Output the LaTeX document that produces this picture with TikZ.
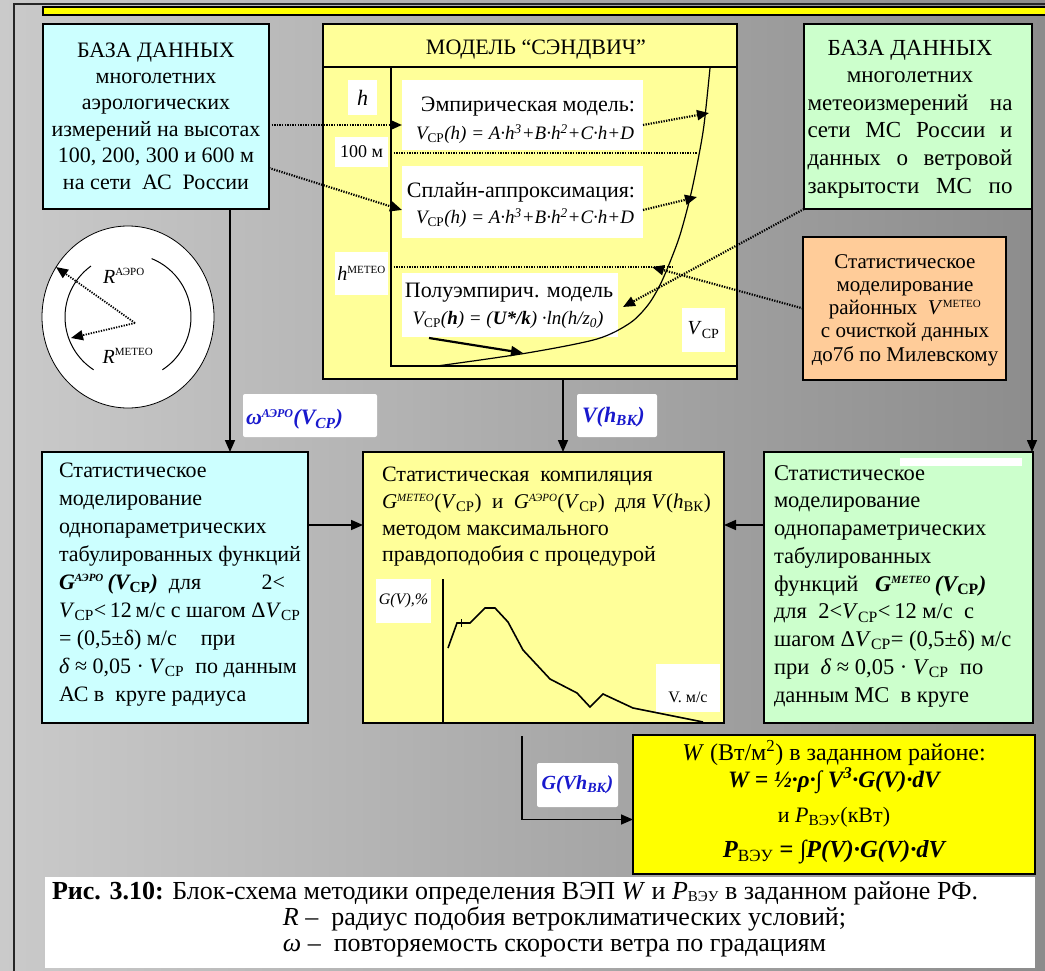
\documentclass[tikz,border=0pt]{standalone}
\usepackage{fontspec}
\setmainfont{Liberation Serif}
\usetikzlibrary{arrows.meta,calc}
\definecolor{cyanbox}{RGB}{204,255,255}
\definecolor{ylbox}{RGB}{255,255,153}
\definecolor{grbox}{RGB}{204,255,204}
\definecolor{orbox}{RGB}{255,204,153}
\definecolor{ybright}{RGB}{255,255,0}
\definecolor{lblue}{RGB}{25,25,205}
\definecolor{bgl}{RGB}{202,202,202}
\definecolor{bgr}{RGB}{140,140,140}
\newcommand{\fsz}[2]{\fontsize{#1}{#2}\selectfont}
\newcommand{\Vsr}{\textit{V}\textsubscript{\upshape СР}}
\newcommand{\smsup}[1]{\textsuperscript{\fsz{11}{12}#1}}
\begin{document}
\begin{tikzpicture}[x=1pt,y=-1pt,
  arr/.style={-{Triangle[length=12pt,width=10pt]}, line width=1.6pt},
  dots/.style={line width=2.2pt, dash pattern=on 1.3pt off 1.3pt},
  darr/.style={dots, -{Triangle[length=12pt,width=10pt]}},
  boxs/.style={draw=black, line width=1.3pt, anchor=north west, inner sep=0pt, outer sep=0pt},
  wbox/.style={fill=white, draw=none, anchor=north west, inner sep=0pt, outer sep=0pt},
  lbox/.style={wbox, rounded corners=2pt},
  txt/.style={inner sep=0pt, outer sep=0pt, font=\fsz{22}{26}},
  blue/.style={txt, text=lblue, font=\fsz{22}{24}\bfseries\itshape}
]
\useasboundingbox (0,0) rectangle (1045,971);
\fill[left color=bgl, right color=bgr] (0,0) rectangle (1045,971);
\draw[line width=1.5pt, black!85] (14,971) -- (14,4) -- (1045,4);
\draw[fill=ybright, line width=1.2pt] (43,7) rectangle (1050,15);

% ---------- top left data base
\node[boxs, fill=cyanbox, minimum width=226pt, minimum height=185pt] (dbA) at (43,24) {};
\node[txt, align=center, font=\fsz{22}{26.4}] (dbAt) at (156,116) {БАЗА ДАННЫХ\\многолетних\\аэрологических\\измерений на высотах\\100, 200, 300 и 600 м\\на сети\ \ АС\ \ России};

% ---------- sandwich model
\node[boxs, fill=ylbox, minimum width=414pt, minimum height=355pt] (sand) at (323,24) {};
\draw[line width=1.3pt] (sand.west |- 0,67) -- (sand.east |- 0,67);
\node[txt] (sandt) at (536,50) {МОДЕЛЬ “СЭНДВИЧ”};
\draw[line width=1.5pt] (391,67) -- (391,366) -- (sand.east |- 0,366);

\node[wbox, minimum width=29pt, minimum height=35pt] (hbox) at (348,80) {};
\node[txt, font=\fsz{22}{24}\itshape] (ht) at (hbox.center) {h};
\node[wbox, minimum width=53pt, minimum height=30pt] (mbox) at (335,137) {};
\node[txt, font=\fsz{18}{20}] (mt) at (mbox.center) {100 м};
\node[wbox, minimum width=53pt, minimum height=43pt] (hmbox) at (335,252) {};
\node[txt, font=\fsz{20}{22}] (hmt) at (hmbox.center) {\textit{h}\smsup{МЕТЕО}};

\node[wbox, minimum width=241pt, minimum height=70pt] (emp) at (402,80) {};
\node[txt] (empt) at (528,107) {Эмпирическая модель:};
\node[txt, font=\fsz{19}{22}\itshape] (empf) at (525,134) {\Vsr(h) = A·h\textsuperscript{3}+B·h\textsuperscript{2}+C·h+D};
\node[wbox, minimum width=241pt, minimum height=72pt] (spl) at (402,166) {};
\node[txt] (splt) at (521,192) {Сплайн-аппроксимация:};
\node[txt, font=\fsz{19}{22}\itshape] (splf) at (525,218) {\Vsr(h) = A·h\textsuperscript{3}+B·h\textsuperscript{2}+C·h+D};
\node[wbox, minimum width=216pt, minimum height=64pt] (semi) at (402,273) {};
\node[txt] (semit) at (509,293) {Полуэмпирич. модель};
\node[txt, font=\fsz{19}{22}\itshape] (semif) at (508,320) {\Vsr(\textbf{h}) = (\textbf{U*/k}) ·ln(h/z\textsubscript{0})};
\node[wbox, minimum width=43pt, minimum height=44pt] (vbox) at (682,308) {};
\node[txt, font=\fsz{20}{22}] (vt) at (vbox.center) {\Vsr};

\draw[dots] (391,153) -- (697,153);
\draw[dots] (391,267) -- (672,267);
\draw[line width=1.2pt] plot[smooth] coordinates {(437,366) (527,353) (597,339) (630,323) (648,305) (660,285) (670,262) (680,235) (690,198) (698,160) (704,125) (710,68)};
\coordinate (c1) at (709,113);
\coordinate (c2) at (697,197);
\coordinate (c3) at (652,267);
\coordinate (a1) at (429,338);
\coordinate (a2) at (523,353);
\draw[arr, line width=2.2pt] (a1) -- (a2);

% ---------- top right
\node[boxs, fill=grbox, minimum width=228pt, minimum height=185pt] (dbM) at (804,24) {};
\node[txt, align=center, font=\fsz{23}{27.6}] (dbMt) at (910,119) {БАЗА ДАННЫХ\\многолетних\\\makebox[205pt][s]{метеоизмерений на}\\\makebox[205pt][s]{сети МС России и}\\\makebox[205pt][s]{данных о ветровой}\\\makebox[205pt][s]{закрытости МС по}};
\node[boxs, fill=orbox, minimum width=203pt, minimum height=143pt] (orn) at (803,237) {};
\node[txt, align=center, font=\fsz{21}{23.3}] (ornt) at (905,310) {Статистическое\\моделирование\\районных\ \ \textit{V}\smsup{МЕТЕО}\\с очисткой данных\\до7б по Милевскому};

% dotted connectors
\draw[darr] ([yshift=-8.5pt]dbA.east) -- (emp.west |- 0,125);
\draw[darr] ([yshift=-51.5pt]dbA.east) -- ([yshift=-8pt]spl.west);
\draw[darr] ([yshift=-10pt]emp.east) -- (c1);
\draw[darr] ([yshift=-8pt]spl.east) -- (c2);
\draw[darr] (dbM.south west) -- ([xshift=5pt,yshift=-2pt]semi.east);
\draw[darr] (orn.west) -- (c3);

% ---------- circle
\coordinate (cc) at (128,317);
\draw[fill=white, line width=0.8pt] (cc) ellipse [x radius=86pt, y radius=91pt];
\draw[line width=1pt] ([shift={(126:63pt)}]cc) arc[start angle=126, end angle=237, radius=63pt];
\draw[line width=1pt] ([shift={(-57:63pt)}]cc) arc[start angle=-57, end angle=68, radius=63pt];
\coordinate (cp) at (135,323);
\coordinate (ra) at (56,267);
\coordinate (rm) at (71,338);
\draw[darr, line width=1.8pt] (cp) -- (ra);
\draw[darr, line width=1.8pt] (cp) -- (rm);
\node[txt, font=\fsz{20}{22}] (rat) at (124,276) {\textit{R}\smsup{АЭРО}};
\node[txt, font=\fsz{20}{22}] (rmt) at (128,356) {\textit{R}\smsup{МЕТЕО}};

% ---------- labels on arrows
\node[lbox, minimum width=134pt, minimum height=43pt] (lw) at (243,394) {};
\node[blue, anchor=west] (lwt) at ([xshift=3pt,yshift=-4pt]lw.west) {ω\textsuperscript{\fsz{12}{12}АЭРО}(V\textsubscript{СР})};
\node[lbox, minimum width=80pt, minimum height=43pt] (lv) at (577,394) {};
\node[blue, anchor=west] (lvt) at ([xshift=5pt,yshift=-2pt]lv.west) {V(h\textsubscript{ВК})};

% ---------- bottom boxes
\node[boxs, fill=cyanbox, minimum width=266pt, minimum height=271pt] (statA) at (42,452) {};
\node[txt, align=left, anchor=west, font=\fsz{22}{28.1}] (statAt) at (59,584.5) {Статистическое\\моделирование\\однопараметрических\\табулированных функций\\\makebox[226pt][l]{{\bfseries\itshape G\smsup{АЭРО}\,(V\textsubscript{\upshape СР})}\ \ для\hfill 2<}\\\Vsr<\,12\,м/с с шагом Δ\Vsr\\= (0,5±δ) м/с\hspace{24pt}при\\\textit{δ} ≈ 0,05 · \Vsr\ \ по данным\\АС в\ \ круге радиуса};

\node[boxs, fill=ylbox, minimum width=361pt, minimum height=271pt] (comp) at (363,452) {};
\node[txt, align=left, anchor=west, font=\fsz{22}{26.7}] (compt) at (382,517) {Статистическая\ \ компиляция\\{\fsz{21}{26.7}\textit{G}\smsup{\itshape МЕТЕО}(\Vsr)\ \ и\ \ \textit{G}\smsup{\itshape АЭРО}(\Vsr)\ \ для \textit{V}(\textit{h}\textsubscript{ВК})}\\методом максимального\\правдоподобия с процедурой};
\coordinate (gax) at (443,579);
\draw[line width=1.5pt] (gax) -- (gax |- comp.south);
\node[wbox, minimum width=55pt, minimum height=44pt] (gv) at (376,579) {};
\node[txt, font=\fsz{16}{18}\itshape] (gvt) at (gv.center) {G(V),\%};
\node[wbox, minimum width=64pt, minimum height=48pt] (vm) at (656,664) {};
\node[txt, font=\fsz{16}{18}] (vmt) at (688,697) {V. м/с};
\draw[line width=1.6pt] (448,648) -- (457,623) -- (470,623) -- (485,608) -- (495,608) -- (508,622) -- (523,650) -- (550,679) -- (577,693) -- (590,707) -- (603,694) -- (633,708) -- (703,722);
\draw[line width=1pt] (461,619) -- (461,627);

\node[boxs, fill=grbox, minimum width=269pt, minimum height=271pt] (statM) at (764,452) {};
\node[wbox, minimum width=122pt, minimum height=8pt] (strip) at (900,458) {};
\node[txt, align=left, anchor=west, font=\fsz{22.5}{27.75}] (statMt) at (774,586) {Статистическое\\моделирование\\однопараметрических\\табулированных\\функций\ \ \ {\bfseries\itshape G\smsup{МЕТЕО}\,(V\textsubscript{\upshape СР})}\\для\ \ 2<\Vsr<\,12 м/с\ \ с\\шагом Δ\Vsr= (0,5±δ) м/с\\при\ \ \textit{δ} ≈ 0,05 · \Vsr\ \ по\\данным МС\ \ в круге};

% ---------- W box
\node[boxs, fill=ybright, minimum width=402pt, minimum height=139pt] (Wb) at (633,735) {};
\node[txt, font=\fsz{24}{26}] (w1) at (834,753) {\textit{W} (Вт/м\textsuperscript{2}) в заданном районе:};
\node[txt, font=\fsz{23.5}{26}\bfseries\itshape] (w2) at (834,781) {W = ½·ρ·∫ V\textsuperscript{3}·G(V)·dV};
\node[txt] (w3) at (834,817) {и \textit{P}\textsubscript{ВЭУ}(кВт)};
\node[txt, font=\fsz{24.5}{26}\bfseries\itshape] (w4) at (834,852) {P\textsubscript{\upshape\mdseries ВЭУ} = ∫P(V)·G(V)·dV};
\node[lbox, minimum width=81pt, minimum height=44pt] (lg) at (537,763) {};
\node[blue, font=\fsz{20}{22}\bfseries\itshape] (lgt) at (lg.center) {G(Vh\textsubscript{ВК})};

% ---------- solid connectors
\draw[arr] ([xshift=187pt]dbA.south west) -- ([xshift=187pt]dbA.south west |- statA.north);
\draw[arr] ([xshift=240pt]sand.south west) -- ([xshift=240pt]sand.south west |- comp.north);
\draw[arr] (dbM.south east) -- (dbM.south east |- statM.north);
\draw[arr] ([yshift=62.5pt]statA.east) -- ([yshift=62.5pt]comp.west);
\draw[arr] ([yshift=62.5pt]statM.west) -- ([yshift=62.5pt]comp.east);
\coordinate (gstart) at (522,736);
\draw[arr] (gstart) |- ([yshift=-15pt]Wb.west);

% ---------- caption
\node[wbox, minimum width=990pt, minimum height=91pt] (cap) at (45,877) {};
\node[txt, anchor=north west, align=left, font=\fsz{26}{26}] (capt) at (52,882) {\textbf{Рис. 3.10:} Блок-схема методики определения ВЭП \textit{W} и \textit{P}\raisebox{-2pt}{\fsz{15}{15}ВЭУ} в заданном районе РФ.\\\hspace*{231pt}\textit{R}\ –\ \ радиус подобия ветроклиматических условий;\\\hspace*{231pt}\textit{ω}\ –\ \ повторяемость скорости ветра по градациям};
\end{tikzpicture}
\end{document}
